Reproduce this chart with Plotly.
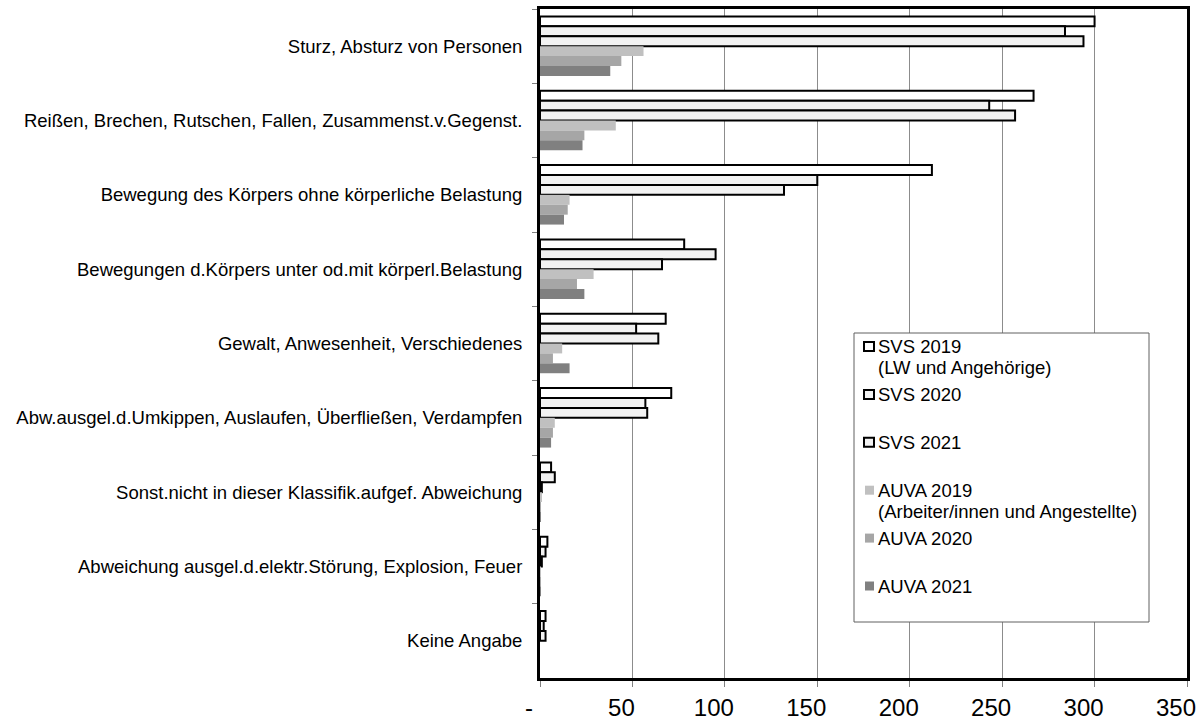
import plotly.graph_objects as go

# Accident causes (top to bottom)
categories = [
    "Sturz, Absturz von Personen",
    "Reißen, Brechen, Rutschen, Fallen, Zusammenst.v.Gegenst.",
    "Bewegung des Körpers ohne körperliche Belastung",
    "Bewegungen d.Körpers unter od.mit körperl.Belastung",
    "Gewalt, Anwesenheit, Verschiedenes",
    "Abw.ausgel.d.Umkippen, Auslaufen, Überfließen, Verdampfen",
    "Sonst.nicht in dieser Klassifik.aufgef. Abweichung",
    "Abweichung ausgel.d.elektr.Störung, Explosion, Feuer",
    "Keine Angabe",
]

svs_2019 = [300, 267, 212, 78, 68, 71, 6, 4, 3]
svs_2020 = [284, 243, 150, 95, 52, 57, 8, 3, 2]
svs_2021 = [294, 257, 132, 66, 64, 58, 1, 1, 3]
auva_2019 = [56, 41, 16, 29, 12, 8, 1, 0.5, 0]
auva_2020 = [44, 24, 15, 20, 7, 7, 0.5, 0.5, 0]
auva_2021 = [38, 23, 13, 24, 16, 6, 0.5, 0.5, 0]

series_names = ["SVS 2019", "SVS 2020", "SVS 2021", "AUVA 2019", "AUVA 2020", "AUVA 2021"]
series_values = [svs_2019, svs_2020, svs_2021, auva_2019, auva_2020, auva_2021]
series_fill = ["#ffffff", "#f2f2f2", "#f2f2f2", "#c0c0c0", "#a6a6a6", "#808080"]
series_outline = [2, 2, 2, 0, 0, 0]

# Legend text lines (first line = series name, optional second line)
legend_lines = [
    ["SVS 2019", "(LW und Angehörige)"],
    ["SVS 2020"],
    ["SVS 2021"],
    ["AUVA 2019", "(Arbeiter/innen und Angestellte)"],
    ["AUVA 2020"],
    ["AUVA 2021"],
]

x_ticks = [0, 50, 100, 150, 200, 250, 300, 350]
x_ticktext = ["-", "50", "100", "150", "200", "250", "300", "350"]

FONT = "Liberation Sans, Arial, sans-serif"
W, H = 1204, 720
PL, PR, PT, PB = 540, 1187, 9, 678  # plot area in pixels


def px(x):
    return (x - PL) / (PR - PL)


def py(y):
    return (PB - y) / (PB - PT)


fig = go.Figure()
for name, vals, fill, lw in zip(series_names, series_values, series_fill, series_outline):
    fig.add_trace(go.Bar(
        name=name,
        y=categories,
        x=vals,
        orientation="h",
        marker=dict(color=fill, line=dict(color="#000000", width=lw)),
        showlegend=False,
    ))

# Legend box drawn in paper coordinates
shapes = [dict(
    type="rect", xref="paper", yref="paper",
    x0=px(854), x1=px(1149), y0=py(622), y1=py(333),
    line=dict(color="#606060", width=1), fillcolor="#ffffff", layer="above",
)]
annotations = []
first_y, step, sub_dy = 346.5, 47.9, 21
for i, lines in enumerate(legend_lines):
    cy = first_y + i * step
    if series_outline[i] > 0:
        shapes.append(dict(
            type="rect", xref="paper", yref="paper",
            x0=px(864), x1=px(874), y0=py(cy + 4.5), y1=py(cy - 4.5),
            line=dict(color="#000000", width=2), fillcolor=series_fill[i], layer="above",
        ))
    else:
        shapes.append(dict(
            type="rect", xref="paper", yref="paper",
            x0=px(865), x1=px(874), y0=py(cy + 4.5), y1=py(cy - 4.5),
            line=dict(width=0), fillcolor=series_fill[i], layer="above",
        ))
    for j, text in enumerate(lines):
        annotations.append(dict(
            xref="paper", yref="paper", x=px(876), y=py(cy + j * sub_dy),
            xanchor="left", yanchor="middle", showarrow=False,
            text=text, font=dict(family=FONT, size=18.5, color="#000000"),
        ))

fig.update_layout(
    width=W, height=H,
    margin=dict(l=PL, r=W - PR, t=PT, b=H - PB, autoexpand=False),
    paper_bgcolor="#ffffff", plot_bgcolor="#ffffff",
    barmode="group", bargap=0.2, bargroupgap=0,
    font=dict(family=FONT, color="#000000"),
    shapes=shapes, annotations=annotations,
    showlegend=False,
)
fig.update_xaxes(
    range=[0, 350], tickvals=x_ticks, ticktext=x_ticktext,
    showgrid=True, gridcolor="#8c8c8c", gridwidth=1, zeroline=False,
    showline=True, linecolor="#000000", linewidth=3, mirror=True,
    ticks="outside", ticklen=6, tickcolor="#808080", tickwidth=1,
    tickfont=dict(family=FONT, size=24, color="#000000"),
    ticklabelshift=-11, automargin=False,
)
fig.update_yaxes(
    categoryorder="array", categoryarray=categories, autorange="reversed",
    showgrid=False, zeroline=False,
    showline=True, linecolor="#000000", linewidth=3, mirror=True,
    ticks="outside", tickson="boundaries", ticklen=5, tickcolor="#808080", tickwidth=1,
    tickfont=dict(family=FONT, size=18.5, color="#000000"),
    ticklabelstandoff=11, automargin=False,
)

fig.write_html("out.html")
